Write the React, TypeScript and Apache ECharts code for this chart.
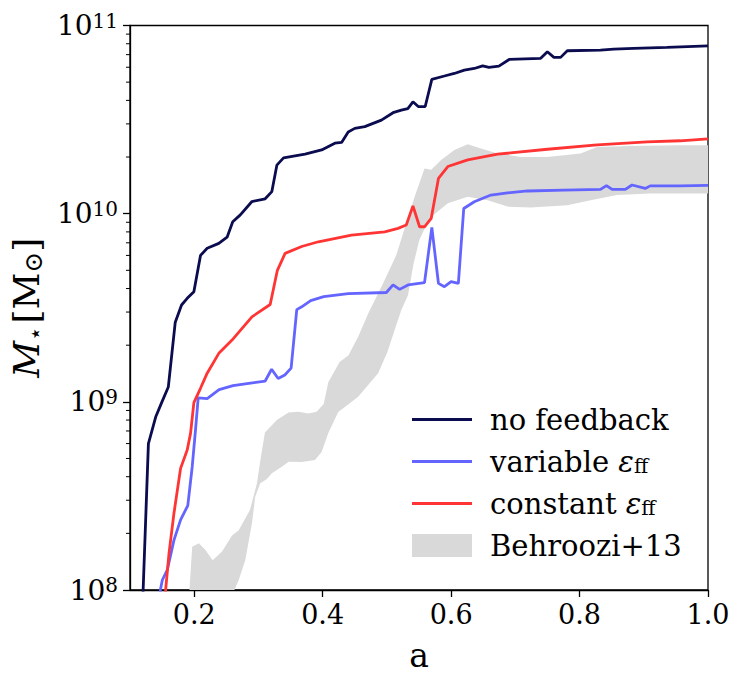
import React, { useEffect, useRef } from "react";
import * as echarts from "echarts";

// Stellar mass growth M⋆(a) for three runs, with the Behroozi+13 band.
const noFeedback: [number, number][] = [
  [0.1199, 8.8e7], [0.1287, 6.0e8], [0.14, 8.3e8], [0.1493, 9.9e8], [0.1597, 1.2e9],
  [0.1705, 2.65e9], [0.1803, 3.27e9], [0.1891, 3.55e9], [0.1995, 3.85e9], [0.2098, 6.0e9],
  [0.2202, 6.55e9], [0.2383, 6.95e9], [0.2512, 7.5e9], [0.26, 9.05e9], [0.2718, 9.85e9],
  [0.2899, 1.16e10], [0.3105, 1.2e10], [0.3209, 1.31e10], [0.3287, 1.81e10], [0.3391, 1.98e10],
  [0.3726, 2.07e10], [0.3984, 2.18e10], [0.419, 2.37e10], [0.4295, 2.39e10], [0.4398, 2.72e10],
  [0.45, 2.84e10], [0.4656, 2.9e10], [0.4915, 3.14e10], [0.5096, 3.44e10], [0.5225, 3.55e10],
  [0.5326, 3.62e10], [0.5406, 3.93e10], [0.5488, 3.71e10], [0.5597, 3.71e10], [0.57, 5.17e10],
  [0.5896, 5.39e10], [0.605, 5.56e10], [0.6206, 5.79e10], [0.6361, 5.91e10], [0.6491, 6.1e10],
  [0.6589, 5.99e10], [0.6744, 6.08e10], [0.6904, 6.6e10], [0.7395, 6.69e10], [0.7499, 7.25e10],
  [0.7601, 6.77e10], [0.7705, 6.77e10], [0.7809, 7.34e10], [0.8326, 7.4e10], [0.8532, 7.49e10],
  [0.8842, 7.56e10], [0.936, 7.65e10], [1.0, 7.8e10],
];

const variableEff: [number, number][] = [
  [0.1468, 8.8e7], [0.1473, 1.0e8], [0.1504, 1.13e8], [0.1581, 1.28e8], [0.1685, 1.84e8],
  [0.1788, 2.36e8], [0.19, 2.81e8], [0.1969, 4.52e8], [0.202, 7.08e8], [0.2062, 1.05e9],
  [0.2202, 1.04e9], [0.2388, 1.16e9], [0.2605, 1.22e9], [0.2822, 1.25e9], [0.3105, 1.29e9],
  [0.3205, 1.49e9], [0.3307, 1.33e9], [0.3411, 1.39e9], [0.3509, 1.51e9], [0.3597, 3.09e9],
  [0.3674, 3.2e9], [0.3814, 3.45e9], [0.4016, 3.62e9], [0.4398, 3.76e9], [0.4992, 3.81e9],
  [0.5096, 4.18e9], [0.5198, 3.96e9], [0.5329, 4.18e9], [0.5586, 4.3e9], [0.57, 8.45e9],
  [0.5803, 4.26e9], [0.5896, 4.09e9], [0.6, 4.35e9], [0.6113, 4.26e9], [0.6197, 1.066e10],
  [0.6361, 1.157e10], [0.662, 1.256e10], [0.6879, 1.29e10], [0.7189, 1.32e10], [0.7757, 1.335e10],
  [0.8326, 1.345e10], [0.8419, 1.41e10], [0.8507, 1.345e10], [0.8713, 1.345e10], [0.8817, 1.42e10],
  [0.9023, 1.362e10], [0.91, 1.405e10], [0.9566, 1.405e10], [1.0, 1.415e10],
];

const constantEff: [number, number][] = [
  [0.1552, 8.8e7], [0.1555, 1.0e8], [0.1608, 1.57e8], [0.1685, 2.56e8], [0.1788, 4.43e8],
  [0.1891, 5.55e8], [0.1943, 6.8e8], [0.1995, 9.9e8], [0.2098, 1.18e9], [0.2202, 1.42e9],
  [0.2383, 1.81e9], [0.2589, 2.13e9], [0.2899, 2.83e9], [0.3183, 3.29e9], [0.3295, 5.0e9],
  [0.3415, 6.15e9], [0.3674, 6.69e9], [0.3933, 7.09e9], [0.445, 7.7e9], [0.4966, 8.01e9],
  [0.5174, 8.35e9], [0.5302, 8.7e9], [0.5406, 1.1e10], [0.5509, 8.52e9], [0.5586, 8.52e9],
  [0.569, 9.44e9], [0.5803, 1.54e10], [0.5949, 1.78e10], [0.6259, 1.93e10], [0.6724, 2.07e10],
  [0.7499, 2.2e10], [0.8274, 2.32e10], [0.905, 2.41e10], [0.9566, 2.44e10], [1.0, 2.5e10],
];

const behrooziUpper: [number, number][] = [
  [0.1915, 8.8e7], [0.1969, 1.7e8], [0.2073, 1.77e8], [0.2175, 1.63e8], [0.2287, 1.44e8],
  [0.2434, 1.6e8], [0.2589, 1.95e8], [0.2693, 2.08e8], [0.2868, 2.66e8], [0.2977, 3.69e8],
  [0.3031, 4.91e8], [0.3101, 6.87e8], [0.3287, 8.0e8], [0.3468, 8.77e8], [0.3623, 8.86e8],
  [0.3778, 8.68e8], [0.3907, 8.86e8], [0.4016, 9.73e8], [0.4088, 1.27e9], [0.4264, 1.63e9],
  [0.4403, 1.77e9], [0.4553, 2.22e9], [0.4709, 2.95e9], [0.4864, 3.77e9], [0.4966, 4.44e9],
  [0.5147, 6.03e9], [0.5276, 8.35e9], [0.5431, 1.225e10], [0.5586, 1.74e10], [0.569, 1.71e10],
  [0.5845, 1.93e10], [0.6051, 2.18e10], [0.6259, 2.34e10], [0.6465, 2.22e10], [0.6724, 2.09e10],
  [0.7085, 2.0e10], [0.7499, 2.0e10], [0.8016, 2.09e10], [0.8274, 2.26e10], [0.8791, 2.29e10],
  [0.9566, 2.31e10], [1.0, 2.31e10],
];

const behrooziLower: [number, number][] = [
  [0.2558, 8.8e7], [0.2693, 1.13e8], [0.2795, 1.44e8], [0.2899, 2.26e8], [0.295, 3.13e8],
  [0.3028, 3.69e8], [0.3132, 3.89e8], [0.3209, 4.17e8], [0.3364, 4.52e8], [0.3468, 4.81e8],
  [0.3674, 4.79e8], [0.388, 4.91e8], [0.3984, 5.41e8], [0.4088, 6.82e8], [0.4243, 8.83e8],
  [0.4553, 1.064e9], [0.4864, 1.42e9], [0.5008, 1.84e9], [0.5121, 2.41e9], [0.5225, 3.08e9],
  [0.5329, 3.69e9], [0.5411, 5.33e9], [0.5504, 7.23e9], [0.5612, 8.69e9], [0.5721, 9.82e9],
  [0.5949, 1.135e10], [0.6259, 1.23e10], [0.6569, 1.18e10], [0.6879, 1.09e10], [0.724, 1.08e10],
  [0.7809, 1.11e10], [0.8171, 1.18e10], [0.8584, 1.256e10], [0.9101, 1.28e10], [1.0, 1.28e10],
];

const xTicks = [0.2, 0.4, 0.6, 0.8, 1.0];
const yMinorTicks = [
  2e8, 3e8, 4e8, 5e8, 6e8, 7e8, 8e8, 9e8,
  2e9, 3e9, 4e9, 5e9, 6e9, 7e9, 8e9, 9e9,
  2e10, 3e10, 4e10, 5e10, 6e10, 7e10, 8e10, 9e10,
];

const SERIF = '"DejaVu Serif", serif';
const NAVY = "#0b0b4f";
const BLUE = "#6464ff";
const RED = "#ff3434";
const GREY = "#d9d9d9";
const LINE_ICON = "path://M0,0H60V3H0Z";

const legendLabels: Record<string, string> = {
  "no feedback": "{t|no feedback}",
  "variable εff": "{t|variable }{e|ε}{s|ff}",
  "constant εff": "{t|constant }{e|ε}{s|ff}",
  "Behroozi+13": "{t|Behroozi+13}",
};

export default function App() {
  const ref = useRef<HTMLDivElement>(null);

  useEffect(() => {
    const chart = echarts.init(ref.current!, null, { renderer: "svg" });

    const lineSeries = (name: string, data: [number, number][], color: string) => ({
      type: "line",
      name,
      data,
      color,
      showSymbol: false,
      symbol: "none",
      clip: true,
      z: 3,
      lineStyle: { width: 2.8, color },
      itemStyle: { color },
    });

    chart.setOption({
      animation: false,
      backgroundColor: "#fff",
      grid: {
        left: 127,
        right: 36,
        top: 25.5,
        bottom: 96,
        show: true,
        borderColor: "#000",
        borderWidth: 1.3,
      },
      xAxis: {
        type: "value",
        min: 0.1,
        max: 1.0,
        splitLine: { show: false },
        axisLine: { show: true, onZero: false, lineStyle: { color: "#000", width: 1.3 } },
        axisTick: { show: true, length: 7, customValues: xTicks, lineStyle: { color: "#000", width: 1.3 } },
        axisLabel: {
          customValues: xTicks,
          formatter: (v: number) => v.toFixed(1),
          fontFamily: SERIF,
          fontSize: 27,
          color: "#000",
          margin: 11,
        },
        name: "a",
        nameLocation: "middle",
        nameGap: 49,
        nameTextStyle: { fontFamily: SERIF, fontSize: 33, color: "#000" },
      },
      yAxis: {
        type: "log",
        logBase: 10,
        min: 1e8,
        max: 1e11,
        splitNumber: 3,
        splitLine: { show: false },
        axisLine: { show: true, lineStyle: { color: "#000", width: 1.3 } },
        axisTick: { show: true, length: 7, lineStyle: { color: "#000", width: 1.3 } },
        axisLabel: {
          formatter: (v: number) => `{b|10}{p|${Math.round(Math.log10(v))}}`,
          margin: 12,
          color: "#000",
          rich: {
            b: { fontFamily: SERIF, fontSize: 28, lineHeight: 30, color: "#000" },
            p: { fontFamily: SERIF, fontSize: 20, lineHeight: 19, verticalAlign: "top", color: "#000" },
          },
        },
        name: "{m|M}{st|⋆} {r|[M}{od|⊙}{r|]}",
        nameLocation: "middle",
        nameRotate: 90,
        nameGap: 80,
        nameTextStyle: {
          color: "#000",
          rich: {
            m: { fontFamily: SERIF, fontStyle: "italic", fontSize: 36, lineHeight: 40, color: "#000" },
            st: { fontFamily: SERIF, fontSize: 23, lineHeight: 22, verticalAlign: "bottom", color: "#000" },
            r: { fontFamily: SERIF, fontSize: 36, lineHeight: 40, color: "#000" },
            od: { fontFamily: SERIF, fontSize: 25, lineHeight: 24, verticalAlign: "bottom", color: "#000" },
          },
        },
      },
      legend: {
        orient: "vertical",
        left: 407,
        top: 400,
        itemWidth: 60,
        itemHeight: 23,
        itemGap: 13,
        selectedMode: false,
        data: [
          { name: "no feedback", icon: LINE_ICON },
          { name: "variable εff", icon: LINE_ICON },
          { name: "constant εff", icon: LINE_ICON },
          { name: "Behroozi+13", icon: "rect" },
        ],
        formatter: (name: string) => legendLabels[name] ?? name,
        textStyle: {
          color: "#000",
          padding: [0, 0, 0, 13],
          rich: {
            t: { fontFamily: SERIF, fontSize: 29, lineHeight: 28, color: "#000" },
            e: { fontFamily: SERIF, fontStyle: "italic", fontSize: 29, lineHeight: 28, color: "#000" },
            s: { fontFamily: SERIF, fontSize: 20, lineHeight: 16, verticalAlign: "bottom", color: "#000" },
          },
        },
      },
      series: [
        {
          type: "custom",
          name: "Behroozi+13",
          color: GREY,
          itemStyle: { color: GREY },
          clip: true,
          silent: true,
          z: 1,
          data: [[0.5, 1e9]],
          renderItem: (_params: any, api: any) => {
            const outline = [...behrooziUpper, ...behrooziLower.slice().reverse()];
            const points = outline.map((p) => api.coord(p));
            return { type: "polygon", shape: { points }, style: { fill: GREY } };
          },
        },
        lineSeries("no feedback", noFeedback, NAVY),
        lineSeries("variable εff", variableEff, BLUE),
        lineSeries("constant εff", constantEff, RED),
        {
          type: "custom",
          name: "minor ticks",
          silent: true,
          clip: false,
          z: 5,
          data: yMinorTicks.map((v) => [0.1, v]),
          renderItem: (_params: any, api: any) => {
            const p = api.coord([api.value(0), api.value(1)]);
            return {
              type: "line",
              shape: { x1: p[0] - 4, y1: p[1], x2: p[0], y2: p[1] },
              style: { stroke: "#000", lineWidth: 1 },
            };
          },
        },
      ],
    });

    return () => chart.dispose();
  }, []);

  return (
    <div
      ref={ref}
      style={{ position: "absolute", left: 0, top: 0, width: 744, height: 686, background: "#fff" }}
    />
  );
}
